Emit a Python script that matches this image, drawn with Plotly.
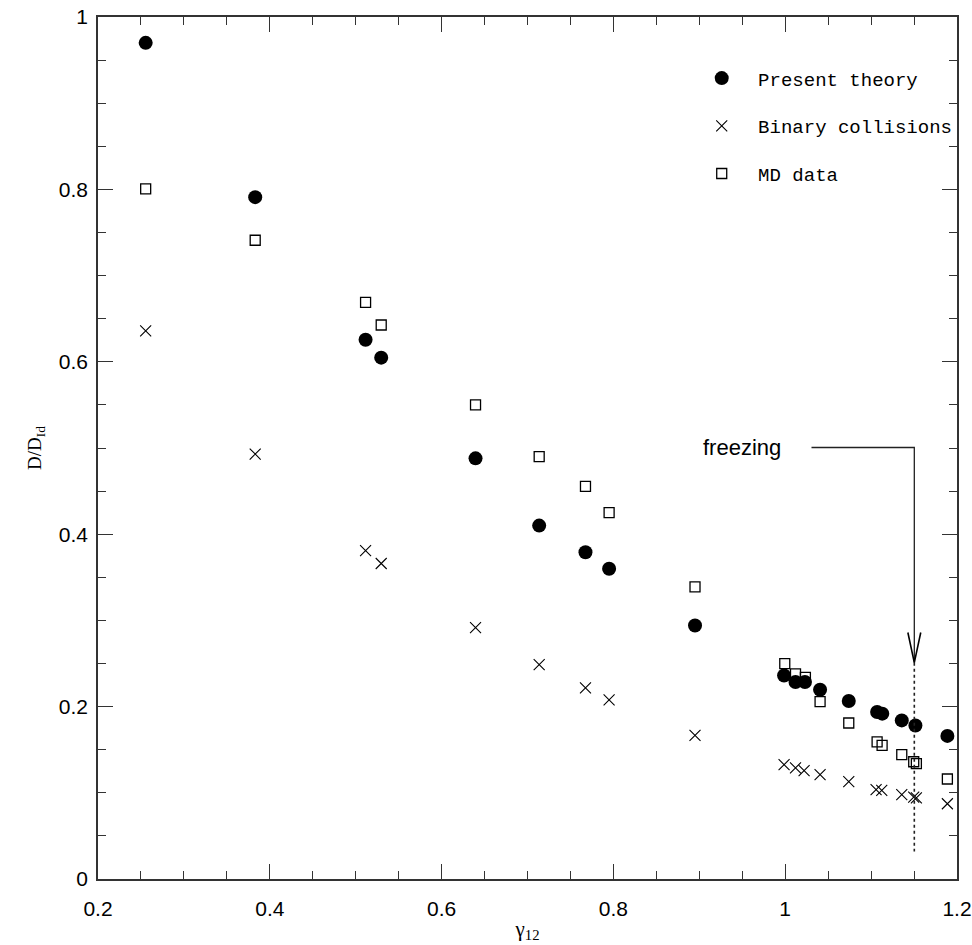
import plotly.graph_objects as go

# ---- data ----
theory_x = [0.2555, 0.383, 0.5115, 0.5297, 0.6395, 0.7136, 0.7675, 0.795, 0.895,
            0.9987, 1.012, 1.023, 1.0406, 1.074, 1.107, 1.113, 1.1357, 1.1516, 1.1888]
theory_y = [0.970, 0.791, 0.6256, 0.6048, 0.488, 0.410, 0.379, 0.360, 0.294,
            0.236, 0.2285, 0.2285, 0.2196, 0.2065, 0.1937, 0.1918, 0.184, 0.178, 0.166]

binary_x = [0.2555, 0.383, 0.5115, 0.5297, 0.6395, 0.7136, 0.7675, 0.795, 0.895,
            0.9987, 1.012, 1.022, 1.0406, 1.074, 1.1058, 1.1124, 1.1357, 1.1496, 1.1527, 1.1888]
binary_y = [0.636, 0.493, 0.381, 0.366, 0.2915, 0.2486, 0.2216, 0.2077, 0.1666,
            0.1326, 0.1288, 0.1256, 0.121, 0.1129, 0.1036, 0.1028, 0.0978, 0.0951, 0.094, 0.0873]

md_x = [0.2555, 0.383, 0.5115, 0.5297, 0.6395, 0.7136, 0.7675, 0.795, 0.895,
        0.9995, 1.012, 1.0235, 1.0406, 1.074, 1.107, 1.1128, 1.1357, 1.1496, 1.1527, 1.1888]
md_y = [0.8005, 0.741, 0.669, 0.6427, 0.550, 0.490, 0.4555, 0.425, 0.339,
        0.2498, 0.238, 0.234, 0.2057, 0.181, 0.159, 0.155, 0.1442, 0.136, 0.1338, 0.116]

series_names = [" Present theory", " Binary collisions", " MD data"]

x_ticks = [0.2, 0.4, 0.6, 0.8, 1.0, 1.2]
x_labels = ["0.2", "0.4", "0.6", "0.8", "1", "1.2"]
y_ticks = [0, 0.2, 0.4, 0.6, 0.8, 1.0]
y_labels = ["0", "0.2", "0.4", "0.6", "0.8", "1"]

freeze_x = 1.1503          # freezing point on the gamma axis
freeze_label_y = 0.5006    # height of the label / arrow line
freeze_line_start = 1.0306
arrow_tip_y = 0.251
dotted_bottom = 0.032

fig = go.Figure()
fig.add_trace(go.Scatter(x=theory_x, y=theory_y, mode="markers", name=series_names[0],
                         legendgroup="a",
                         marker=dict(symbol="circle", size=14, color="black")))
fig.add_trace(go.Scatter(x=binary_x, y=binary_y, mode="markers", name=series_names[1],
                         legendgroup="b",
                         marker=dict(symbol="x-thin-open", size=11, color="black",
                                     line=dict(width=1.1, color="black"))))
fig.add_trace(go.Scatter(x=md_x, y=md_y, mode="markers", name=series_names[2],
                         legendgroup="c",
                         marker=dict(symbol="square-open", size=10, color="black",
                                     line=dict(width=1.3, color="black"))))

# freezing marker: bent arrow and dotted line
line_col = "#222222"
fig.add_shape(type="path", xref="x", yref="y",
              path=f"M {freeze_line_start} {freeze_label_y} L {freeze_x} {freeze_label_y} L {freeze_x} {arrow_tip_y}",
              line=dict(color=line_col, width=1.3))
fig.add_shape(type="line", xref="x", yref="y",
              x0=freeze_x, x1=freeze_x, y0=arrow_tip_y, y1=dotted_bottom,
              line=dict(color=line_col, width=1.6, dash="dot"))
# arrow head (V shape)
fig.add_shape(type="path", xref="x", yref="y",
              path=f"M {freeze_x - 0.0075} {arrow_tip_y + 0.035} L {freeze_x} {arrow_tip_y} L {freeze_x + 0.0075} {arrow_tip_y + 0.035}",
              line=dict(color="black", width=1.6))
fig.add_annotation(x=freeze_line_start - 0.033, y=freeze_label_y, xref="x", yref="y",
                   text="freezing", showarrow=False, xanchor="right", yanchor="middle",
                   font=dict(family="Liberation Sans, Arial", size=22, color="black"))

axis_common = dict(
    showgrid=False, zeroline=False, showline=True, linecolor="#333333", linewidth=1.6,
    mirror="allticks", ticks="inside", ticklen=15, tickwidth=1.3, tickcolor="#333333",
    tickfont=dict(family="Liberation Sans, Arial", size=21, color="black"),
    minor=dict(ticks="inside", ticklen=8, tickwidth=1.2, tickcolor="#333333", dtick=0.05),
)

fig.update_xaxes(range=[0.2, 1.2], tickvals=x_ticks, ticktext=x_labels, ticklabelstandoff=10,
                 title=dict(text="γ<sub>12</sub>", standoff=2,
                            font=dict(family="Liberation Serif, DejaVu Serif", size=21, color="black")),
                 **axis_common)
fig.update_yaxes(range=[0, 1.0], tickvals=y_ticks, ticktext=y_labels, ticklabelstandoff=4,
                 title=dict(text="D/D<sub>Id</sub>", standoff=12,
                            font=dict(family="Liberation Serif, DejaVu Serif", size=19, color="black")),
                 **axis_common)

fig.update_layout(
    width=972, height=945,
    margin=dict(l=98, r=15, t=17, b=66, autoexpand=False),
    plot_bgcolor="white", paper_bgcolor="white",
    showlegend=True,
    legend=dict(x=0.697, y=0.951, xanchor="left", yanchor="top", itemwidth=40,
                bgcolor="rgba(0,0,0,0)", traceorder="grouped", tracegroupgap=20,
                font=dict(family="Liberation Mono, DejaVu Sans Mono", size=19, color="black")),
)

fig.write_html("out.html")
